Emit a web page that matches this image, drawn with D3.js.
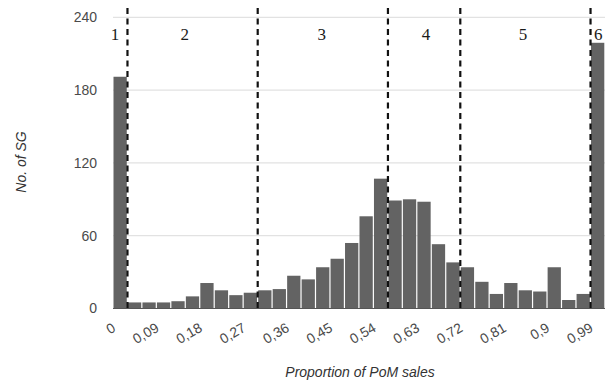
<!DOCTYPE html>
<html>
<head>
<meta charset="utf-8">
<script src="https://cdn.jsdelivr.net/npm/d3@7"></script>
<style>
  html, body { margin: 0; padding: 0; background: #fff; }
  svg { display: block; }
</style>
</head>
<body>
<svg id="chart" width="605" height="385"></svg>
<script>
// Histogram bins (lower edges, width 0.03) and the number of SG in each bin
const binStarts = [0, 0.03, 0.06, 0.09, 0.12, 0.15, 0.18, 0.21, 0.24, 0.27,
  0.30, 0.33, 0.36, 0.39, 0.42, 0.45, 0.48, 0.51, 0.54, 0.57,
  0.60, 0.63, 0.66, 0.69, 0.72, 0.75, 0.78, 0.81, 0.84, 0.87,
  0.90, 0.93, 0.96, 0.99];
const binWidth = 0.03;
const counts = [191, 5, 5, 5, 6, 10, 21, 15, 11, 13,
  15, 16, 27, 24, 34, 41, 54, 76, 107, 89,
  90, 88, 53, 38, 34, 22, 12, 21, 15, 14,
  34, 7, 12, 219];

// Axis ticks
const xTicks = [0, 0.09, 0.18, 0.27, 0.36, 0.45, 0.54, 0.63, 0.72, 0.81, 0.9, 0.99];
const yTicks = [0, 60, 120, 180, 240];

// Group boundaries (dashed lines) and group labels
const boundaries = [0.03, 0.30, 0.57, 0.72, 0.99];
const groupLabels = ["1", "2", "3", "4", "5", "6"];
const groupLabelPos = [0.004, 0.149, 0.433, 0.649, 0.85, 1.006];

const svg = d3.select("#chart");
const x = d3.scaleLinear().domain([0, 1.02]).range([113, 605]);
const y = d3.scaleLinear().domain([0, 240]).range([308.5, 17.3]);

const fmt = d => (d === 0 ? "0" : String(+d.toFixed(2)).replace(".", ","));

// Horizontal gridlines
svg.append("g")
  .selectAll("line")
  .data(yTicks.filter(d => d > 0))
  .join("line")
  .attr("x1", x(0)).attr("x2", 605)
  .attr("y1", d => y(d)).attr("y2", d => y(d))
  .attr("stroke", "#e2e2e2").attr("stroke-width", 1.2);

// Y axis labels
const yAxis = d3.axisLeft(y).tickValues(yTicks).tickSize(0).tickPadding(0).tickFormat(d3.format("d"));
svg.append("g")
  .attr("transform", "translate(97,0)")
  .call(yAxis)
  .call(g => g.select(".domain").remove())
  .call(g => g.selectAll("text")
    .attr("font-family", "'Liberation Sans', Arial, sans-serif")
    .attr("font-size", 14)
    .attr("fill", "#4a4a4a"));

// Bars
svg.append("g")
  .selectAll("rect")
  .data(counts)
  .join("rect")
  .attr("x", (d, i) => x(binStarts[i]) + 0.5)
  .attr("width", (d, i) => x(binStarts[i] + binWidth) - x(binStarts[i]) - 1.2)
  .attr("y", d => y(d))
  .attr("height", d => y(0) - y(d))
  .attr("fill", "#636363");

// Baseline
svg.append("line")
  .attr("x1", x(0)).attr("x2", 605)
  .attr("y1", y(0)).attr("y2", y(0))
  .attr("stroke", "#555").attr("stroke-width", 1.2);

// X axis labels, rotated
const xAxis = d3.axisBottom(x).tickValues(xTicks).tickSize(0).tickPadding(0).tickFormat(fmt);
svg.append("g")
  .attr("transform", `translate(0,${y(0)})`)
  .call(xAxis)
  .call(g => g.select(".domain").remove())
  .call(g => g.selectAll("text")
    .attr("font-family", "'Liberation Sans', Arial, sans-serif")
    .attr("font-size", 14)
    .attr("fill", "#4a4a4a")
    .attr("text-anchor", "end")
    .attr("dy", 0)
    .attr("y", 0)
    .attr("transform", "translate(3,22) rotate(-30)"));

// Dashed group boundaries
svg.append("g")
  .selectAll("line")
  .data(boundaries)
  .join("line")
  .attr("x1", d => x(d)).attr("x2", d => x(d))
  .attr("y1", 8).attr("y2", 311)
  .attr("stroke", "#111")
  .attr("stroke-width", 2.2)
  .attr("stroke-dasharray", "6,4.5");

// Group labels
svg.append("g")
  .selectAll("text")
  .data(groupLabels)
  .join("text")
  .attr("x", (d, i) => x(groupLabelPos[i]))
  .attr("y", 40)
  .attr("text-anchor", "middle")
  .attr("font-family", "'Liberation Serif', 'Times New Roman', serif")
  .attr("font-size", 17)
  .attr("fill", "#1a1a1a")
  .text(d => d);

// Axis titles
svg.append("text")
  .attr("transform", "translate(26,162) rotate(-90)")
  .attr("text-anchor", "middle")
  .attr("font-family", "'Liberation Sans', Arial, sans-serif")
  .attr("font-style", "italic")
  .attr("font-size", 14)
  .attr("fill", "#333")
  .text("No. of SG");

svg.append("text")
  .attr("x", 360)
  .attr("y", 377)
  .attr("text-anchor", "middle")
  .attr("font-family", "'Liberation Sans', Arial, sans-serif")
  .attr("font-style", "italic")
  .attr("font-size", 14)
  .attr("fill", "#333")
  .text("Proportion of PoM sales");
</script>
</body>
</html>
